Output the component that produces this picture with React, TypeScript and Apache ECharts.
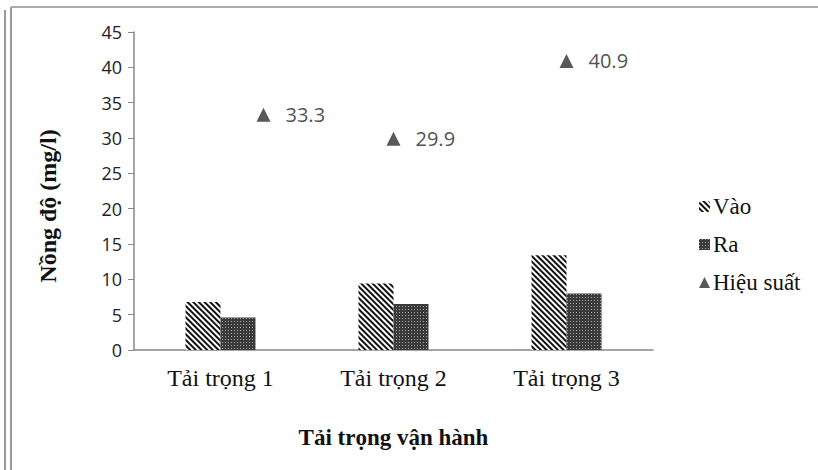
import React, { useEffect, useRef } from "react";
import * as echarts from "echarts";

const categories = ["Tải trọng 1", "Tải trọng 2", "Tải trọng 3"];
const seriesNames = ["Vào", "Ra", "Hiệu suất"];
const vaoValues = [6.8, 9.4, 13.4];
const raValues = [4.6, 6.5, 8.0];
const hieuSuatValues = [33.3, 29.9, 40.9];
const yMin = 0;
const yMax = 45;
const yInterval = 5;
const yAxisTitle = "Nồng độ (mg/l)";
const xAxisTitle = "Tải trọng vận hành";

const SERIF = "Liberation Serif";
const SANS = "Open Sans";

export default function App() {
  const ref = useRef<HTMLDivElement>(null);
  useEffect(() => {
    document.body.style.margin = "0";
    if (!ref.current) return;
    const chart = echarts.init(ref.current, undefined, { renderer: "svg" });
    const option: any = {
      animation: false,
      backgroundColor: "#ffffff",
      textStyle: { fontFamily: SERIF },
      grid: { left: 134, right: 165, top: 32, bottom: 120, containLabel: false },
      legend: {
        orient: "vertical",
        left: 694,
        top: 190,
        itemWidth: 11,
        itemHeight: 11,
        itemGap: 15,
        textStyle: { fontFamily: SERIF, fontSize: 23, color: "#111", padding: [0, 0, 0, -2] },
        data: [
          { name: seriesNames[0] },
          { name: seriesNames[1], icon: "rect" },
          { name: seriesNames[2], icon: "triangle" },
        ],
      },
      xAxis: {
        type: "category",
        data: categories,
        axisLine: { lineStyle: { color: "#888", width: 1.5 } },
        axisTick: { show: false },
        axisLabel: { fontFamily: SERIF, fontSize: 24, color: "#111", margin: 16 },
        name: xAxisTitle,
        nameLocation: "middle",
        nameGap: 76,
        nameTextStyle: { fontFamily: SERIF, fontSize: 23, fontWeight: "bold", color: "#111" },
      },
      yAxis: {
        type: "value",
        min: yMin,
        max: yMax,
        interval: yInterval,
        splitLine: { show: false },
        axisLine: { show: true, lineStyle: { color: "#888", width: 1.5 } },
        axisTick: { show: true, length: 6, lineStyle: { color: "#888" } },
        axisLabel: { fontFamily: SANS, fontSize: 18, color: "#222", margin: 12 },
      },
      series: [
        {
          name: seriesNames[0],
          type: "bar",
          data: vaoValues,
          barWidth: 35,
          barGap: "0%",
          itemStyle: {
            color: "#ffffff",
            decal: {
              symbol: "rect",
              symbolSize: 1,
              color: "#111",
              dashArrayX: [1, 0],
              dashArrayY: [2, 2],
              rotation: Math.PI / 4,
            },
          },
        },
        {
          name: seriesNames[1],
          type: "bar",
          data: raValues,
          barWidth: 35,
          barGap: "0%",
          itemStyle: {
            color: "#3a3a3a",
            decal: {
              symbol: "rect",
              symbolSize: 1,
              color: "rgba(255,255,255,0.55)",
              dashArrayX: [1, 2],
              dashArrayY: [1, 2],
              rotation: 0,
            },
          },
        },
        {
          name: seriesNames[2],
          type: "scatter",
          symbol: "triangle",
          symbolSize: 14,
          data: hieuSuatValues.map((v, i) =>
            i === 0 ? { value: v, symbolOffset: [43, 0] } : { value: v }
          ),
          itemStyle: { color: "#2e2e2e" },
          label: {
            show: true,
            position: "right",
            distance: 15,
            fontFamily: SANS,
            fontSize: 20,
            color: "#222",
            formatter: (p: any) => p.value.toFixed(1),
          },
        },
      ],
      graphic: [
        { type: "line", shape: { x1: 5, y1: 10, x2: 5, y2: 470 }, style: { stroke: "#999", lineWidth: 2 } },
        { type: "line", shape: { x1: 11, y1: 7, x2: 11, y2: 470 }, style: { stroke: "#999", lineWidth: 2 } },
        { type: "line", shape: { x1: 11, y1: 7, x2: 818, y2: 7 }, style: { stroke: "#aaa", lineWidth: 2 } },
        {
          type: "text",
          x: 48,
          y: 206,
          rotation: Math.PI / 2,
          style: {
            text: yAxisTitle,
            fontFamily: SERIF,
            fontSize: 24,
            fontWeight: "bold",
            fill: "#111",
            align: "center",
            verticalAlign: "middle",
          },
        },
      ],
    };
    chart.setOption(option);
    return () => chart.dispose();
  }, []);
  return <div ref={ref} style={{ width: 818, height: 470 }} />;
}
